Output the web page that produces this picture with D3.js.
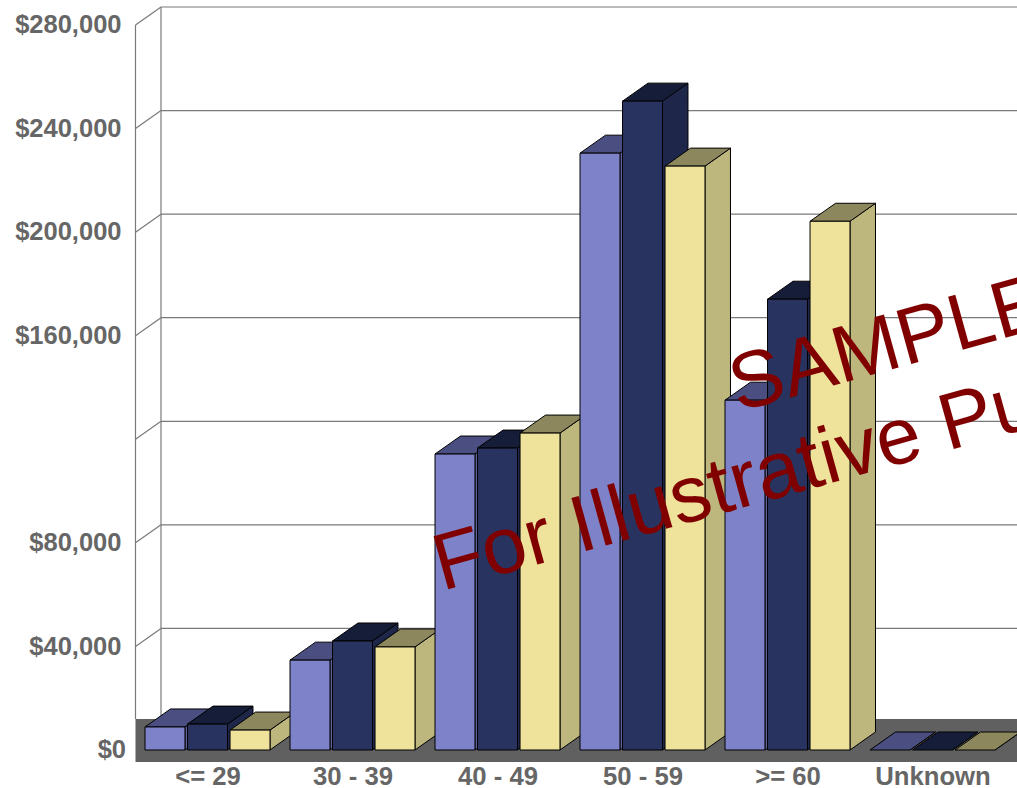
<!DOCTYPE html>
<html>
<head>
<meta charset="utf-8">
<script src="https://cdn.jsdelivr.net/npm/d3@7/dist/d3.min.js"></script>
<style>
  html, body { margin: 0; padding: 0; background: #fff; overflow: hidden; }
  svg { display: block; }
  text { font-family: "Liberation Sans", Arial, sans-serif; }
</style>
</head>
<body>
<svg id="chart" width="1017" height="788"></svg>
<script>
// Values by age band, one array per series
const categories = ["<= 29", "30 - 39", "40 - 49", "50 - 59", ">= 60", "Unknown"];
const seriesA = [8900, 34700, 114300, 230500, 135100, 0];
const seriesB = [10000, 42100, 116600, 250600, 174100, 0];
const seriesC = [7700, 39800, 122400, 225500, 204200, 0];
const gridValues = [0, 40000, 80000, 120000, 160000, 200000, 240000, 280000];
const labelledValues = [0, 40000, 80000, 160000, 200000, 240000, 280000];

// Face colours per series: front, top, side
const faces = [
  { front: "#7e83c9", top: "#4b4e80", side: "#5f649f" },
  { front: "#29335f", top: "#161d38", side: "#1e274a" },
  { front: "#efe29b", top: "#8d875d", side: "#bdb67d" }
];

const width = 1017, height = 788;
const depthX = 25.5, depthY = 18;
const left = 135.5, baseY = 750, topY = 25;

const svg = d3.select("#chart");

const x = d3.scaleBand().domain(categories).range([left - 0.5, left + 869.5])
  .paddingInner(0.138).paddingOuter(0.069);
const inner = d3.scaleBand().domain([0, 1, 2]).range([0, x.bandwidth()]).paddingInner(0.06);
const y = d3.scaleLinear().domain([0, 280000]).range([baseY, topY]);

// Floor slab beneath the bars
svg.append("rect")
  .attr("x", left).attr("y", baseY - 31)
  .attr("width", width - left).attr("height", 43)
  .attr("fill", "#606060");

// Back wall gridlines and their returns on the side wall
const wall = svg.append("g").attr("fill", "none").attr("stroke", "#7a7a7a").attr("stroke-width", 1.2);
gridValues.forEach(v => {
  const yy = y(v);
  if (v > 0) {
    wall.append("line").attr("x1", left + depthX).attr("x2", width)
      .attr("y1", yy - depthY).attr("y2", yy - depthY);
    wall.append("line").attr("x1", left).attr("x2", left + depthX)
      .attr("y1", yy).attr("y2", yy - depthY);
  }
});
wall.append("line").attr("x1", left).attr("x2", left).attr("y1", y(280000)).attr("y2", baseY - 31);
wall.append("line").attr("x1", left + depthX).attr("x2", left + depthX)
  .attr("y1", y(280000) - depthY).attr("y2", baseY - 31);

// Extruded bars, drawn left to right so each one overlaps its neighbour's side
const bars = svg.append("g").attr("stroke", "#000").attr("stroke-width", 1).attr("stroke-linejoin", "round");
const poly = pts => pts.map(p => p.join(",")).join(" ");
categories.forEach((c, i) => {
  [seriesA, seriesB, seriesC].forEach((series, s) => {
    const x0 = x(c) + inner(s), x1 = x0 + inner.bandwidth();
    const yTop = y(series[i]);
    const f = faces[s];
    bars.append("polygon").attr("fill", f.side).attr("stroke-width", series[i] ? 1 : 0.6)
      .attr("points", poly([[x1, baseY], [x1 + depthX, baseY - depthY], [x1 + depthX, yTop - depthY], [x1, yTop]]));
    bars.append("polygon").attr("fill", f.top)
      .attr("points", poly([[x0, yTop], [x0 + depthX, yTop - depthY], [x1 + depthX, yTop - depthY], [x1, yTop]]));
    if (series[i] > 0) {
      bars.append("rect").attr("fill", f.front)
        .attr("x", x0).attr("y", yTop).attr("width", x1 - x0).attr("height", baseY - yTop);
    }
  });
});

// Axis labels
const labelStyle = size => g => {
  g.select(".domain").remove();
  g.selectAll(".tick line").remove();
  g.selectAll("text")
    .attr("fill", "#666666")
    .style("font-family", '"Liberation Sans", Arial, sans-serif')
    .style("font-weight", "bold")
    .style("font-size", size);
};

svg.append("g")
  .attr("transform", "translate(121.5,0)")
  .call(d3.axisLeft(y).tickValues(labelledValues).tickSize(0).tickPadding(0)
    .tickFormat(d => "$" + d3.format(",")(d)))
  .call(labelStyle("25.5px"))
  .selectAll("text").attr("dx", d => d === 0 ? 4.5 : 0).attr("y", -0.5);

svg.append("g")
  .attr("transform", "translate(0.5,767)")
  .call(d3.axisBottom(x).tickSize(0).tickPadding(0))
  .call(labelStyle("25.7px"));

// Watermark, clipped by the page edge
const mark = svg.append("g").attr("fill", "#800000")
  .style("font-size", "80px").attr("text-anchor", "start");
mark.append("text").text("SAMPLE").attr("transform", "translate(738,412) rotate(-15.5)");
mark.append("text").text("For Illustrative Purposes Only").attr("transform", "translate(442,591) rotate(-15.5)");
</script>
</body>
</html>
